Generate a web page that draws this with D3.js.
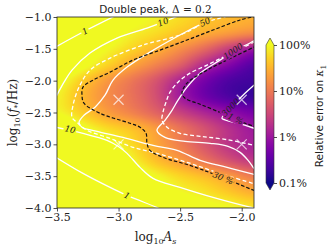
<!DOCTYPE html>
<html>
<head>
<meta charset="utf-8">
<script src="https://cdn.jsdelivr.net/npm/d3@7"></script>
<style>
body { margin: 0; background: #fff; }
svg { display: block; }
.tick text { font-family: "DejaVu Serif", serif; font-size: 11px; fill: #222; }
.tick line { stroke: #222; stroke-width: 0.8; }
.clabel { font-family: "DejaVu Serif", serif; font-style: italic; font-size: 8.5px; fill: #222; }
</style>
</head>
<body>
<svg width="332" height="247"></svg>
<script>
// grid of log10(relative error in %)
var xNodes = [ -3.5, -3.3, -3.1, -2.9, -2.7, -2.5, -2.3, -2.1, -1.9 ];
var yNodes = [ -1.0, -1.25, -1.5, -1.75, -2.0, -2.25, -2.5, -2.75, -3.0, -3.25, -3.5, -3.75, -4.0 ];
var logErr = [
	[ 2.6, 2.5, 2.3, 2.1, 1.95, 1.8, 1.65, 1.55, 1.48 ],
	[ 2.6, 2.4, 2.2, 1.95, 1.8, 1.62, 1.45, 1.3, 1.15 ],
	[ 2.5, 2.2, 2.0, 1.75, 1.5, 1.2, 0.85, 0.4, 0.0 ],
	[ 2.4, 2.1, 1.75, 1.4, 1.1, 0.75, 0.2, -0.2, -0.55 ],
	[ 2.1, 1.7, 1.3, 1.0, 0.65, 0.15, -0.3, -0.6, -0.7 ],
	[ 1.95, 1.55, 1.2, 0.95, 0.6, 0.05, -0.35, -0.6, -0.75 ],
	[ 2.0, 1.7, 1.35, 1.1, 0.8, 0.45, 0.15, -0.1, -0.3 ],
	[ 2.5, 2.1, 1.8, 1.6, 1.3, 0.95, 0.6, 0.25, 0.0 ],
	[ 2.7, 2.5, 2.15, 1.8, 1.42, 1.05, 0.65, 0.3, 0.1 ],
	[ 2.9, 2.7, 2.4, 2.0, 1.6, 1.3, 0.95, 0.6, 0.35 ],
	[ 3.0, 2.9, 2.6, 2.3, 2.0, 1.75, 1.55, 1.3, 1.0 ],
	[ 3.0, 3.0, 2.8, 2.5, 2.25, 2.0, 1.85, 1.65, 1.45 ],
	[ 3.0, 3.0, 3.0, 2.8, 2.5, 2.3, 2.1, 2.0, 1.85 ]
];
var xTicks = [ -3.5, -3.0, -2.5, -2.0 ];
var yTicks = [ -1.0, -1.5, -2.0, -2.5, -3.0, -3.5, -4.0 ];
var cbarTicks = [ -1, 0, 1, 2 ];
var cbarLabels = [ "0.1%", "1%", "10%", "100%" ];
var markers = [ [ -3.0, -2.3 ], [ -3.0, -3.0 ], [ -2.0, -2.3 ], [ -2.0, -3.0 ] ];

// contour lines, [log10 As, log10 f*]
var err30 = [ [-1.88,-0.985],[-2.013,-1.047],[-2.233,-1.205],[-2.444,-1.362],[-2.663,-1.52],[-2.883,-1.677],[-3.069,-1.866],[-3.208,-1.992],[-3.289,-2.102],[-3.297,-2.228],[-3.281,-2.354],[-3.151,-2.512],[-2.907,-2.669],[-2.826,-2.732],[-2.777,-2.827],[-2.769,-2.984],[-2.745,-3.094],[-2.639,-3.205],[-2.42,-3.331],[-2.2,-3.488],[-1.88,-3.74] ];
var err1 = [ [-1.88,-1.455],[-2.07,-1.63],[-2.281,-1.835],[-2.444,-2.039],[-2.485,-2.197],[-2.46,-2.276],[-2.338,-2.37],[-2.16,-2.512],[-2.038,-2.622],[-1.88,-2.73] ];
var snr1Up = [ [-3.52,-1.48],[-3.273,-1.22],[-3.02,-0.975] ];
var snr1Low = [ [-3.52,-3.19],[-3.289,-3.457],[-3.069,-3.677],[-2.931,-3.803],[-2.688,-3.992],[-2.66,-4.02] ];
var snr10Up = [ [-3.52,-2.3],[-3.443,-2.024],[-3.378,-1.835],[-3.232,-1.567],[-3.013,-1.331],[-2.769,-1.173],[-2.639,-1.079],[-2.517,-0.984] ];
var snr10Low = [ [-3.52,-2.728],[-3.289,-2.827],[-3.094,-2.937],[-3.004,-3.031],[-2.931,-3.142],[-2.826,-3.362],[-2.72,-3.535],[-2.501,-3.677],[-2.233,-3.835],[-1.957,-3.976],[-1.85,-4.02] ];
var snr50 = [ [-2.192,-0.921],[-2.298,-1.079],[-2.395,-1.173],[-2.745,-1.551],[-2.931,-1.787],[-3.045,-1.992],[-3.11,-2.228],[-3.191,-2.417],[-3.281,-2.543],[-3.321,-2.654],[-3.297,-2.732],[-3.175,-2.795],[-2.964,-2.89],[-2.72,-3.016],[-2.525,-3.094],[-2.338,-3.252],[-2.119,-3.362],[-1.932,-3.457],[-1.835,-3.504] ];
var snr50b = [ [-2.013,-0.937],[-2.281,-1.079],[-2.501,-1.283],[-2.745,-1.409],[-2.826,-1.457],[-3.069,-1.646],[-3.232,-1.835],[-3.321,-2.102],[-3.37,-2.386],[-3.378,-2.575],[-3.338,-2.654],[-3.256,-2.78],[-3.069,-2.906],[-2.883,-3.047],[-2.688,-3.142],[-2.444,-3.283],[-2.176,-3.457],[-1.908,-3.614],[-1.835,-3.661] ];
var snr1000 = [ [-1.835,-1.299],[-1.932,-1.409],[-2.07,-1.535],[-2.176,-1.677],[-2.338,-1.882],[-2.444,-2.102],[-2.517,-2.307],[-2.566,-2.465],[-2.623,-2.622],[-2.688,-2.78],[-2.623,-2.89],[-2.46,-2.953],[-2.257,-2.984],[-2.111,-3.031],[-2.013,-3.126],[-1.948,-3.252],[-1.9,-3.378],[-1.851,-3.504] ];
var snr1000b = [ [-1.851,-1.331],[-1.9,-1.394],[-2.119,-1.598],[-2.281,-1.756],[-2.42,-1.882],[-2.517,-2.024],[-2.582,-2.181],[-2.615,-2.339],[-2.639,-2.496],[-2.647,-2.622],[-2.606,-2.732],[-2.501,-2.827],[-2.338,-2.874],[-2.135,-2.921],[-1.9,-3.016],[-1.835,-3.047] ];
var snr3000 = [ [-1.835,-1.961],[-1.9,-2.071],[-1.973,-2.197],[-2.046,-2.339],[-2.127,-2.496],[-2.16,-2.591],[-2.095,-2.638],[-1.997,-2.685],[-1.9,-2.748],[-1.835,-2.78] ];

var contours = [
	{ pts : snr1Up, kind : "solid" }, { pts : snr1Low, kind : "solid" },
	{ pts : snr10Up, kind : "solid" }, { pts : snr10Low, kind : "solid" },
	{ pts : snr50, kind : "solid" }, { pts : snr50b, kind : "dashed" },
	{ pts : snr1000, kind : "solid" }, { pts : snr1000b, kind : "dashed" },
	{ pts : snr3000, kind : "solid" },
	{ pts : err30, kind : "error" }, { pts : err1, kind : "error" }
];
var labels = [
	{ text : "1", line : snr1Up, at : [ -3.273, -1.22 ] },
	{ text : "10", line : snr10Up, at : [ -2.639, -1.079 ] },
	{ text : "50", line : snr50, at : [ -2.298, -1.079 ] },
	{ text : "1000", line : snr1000, at : [ -2.07, -1.535 ] },
	{ text : "3000", line : snr3000, at : [ -2.09, -2.42 ] },
	{ text : "10", line : snr10Low, at : [ -3.394, -2.765 ] },
	{ text : "1", line : snr1Low, at : [ -2.931, -3.803 ] },
	{ text : "30 %", line : err30, at : [ -2.151, -3.53 ] },
	{ text : "1 %", line : err1, at : [ -2.05, -2.6 ] }
];

var svg = d3.select("svg");
var margin = { left : 57, top : 17, right : 78, bottom : 39 };
var width = 332 - margin.left - margin.right;
var height = 247 - margin.top - margin.bottom;
var svgG = svg.append("g").attr("transform",
		"translate(" + margin.left + "," + margin.top + ")");
var xScale = d3.scaleLinear().domain([ -3.5, -1.9 ]).range([ 0, width ]);
var yScale = d3.scaleLinear().domain([ -1, -4 ]).range([ 0, height ]);
var colors = d3.scaleSequential(d3.interpolatePlasma).domain([ -1, 2 ]).clamp(true);

// heatmap: smooth the read grid onto a canvas
var dx = xNodes[1] - xNodes[0], dy = yNodes[1] - yNodes[0];
function node(r, c) {
	r = Math.max(0, Math.min(yNodes.length - 1, r));
	c = Math.max(0, Math.min(xNodes.length - 1, c));
	return logErr[r][c];
}
function cubic(p0, p1, p2, p3, t) {
	return p1 + 0.5 * t * (p2 - p0 + t * (2 * p0 - 5 * p1 + 4 * p2 - p3 + t * (3 * (p1 - p2) + p3 - p0)));
}
function field(x, y) {
	var fc = (x - xNodes[0]) / dx, fr = (y - yNodes[0]) / dy;
	var c = Math.floor(fc), r = Math.floor(fr);
	var tc = fc - c, tr = fr - r;
	var rows = [ -1, 0, 1, 2 ].map(function(k) {
		return cubic(node(r + k, c - 1), node(r + k, c), node(r + k, c + 1), node(r + k, c + 2), tc);
	});
	return cubic(rows[0], rows[1], rows[2], rows[3], tr);
}
var canvas = document.createElement("canvas");
canvas.width = width;
canvas.height = height;
var ctx = canvas.getContext("2d");
var img = ctx.createImageData(width, height);
for (var j = 0; j < height; j++) {
	for (var i = 0; i < width; i++) {
		var col = d3.rgb(colors(field(xScale.invert(i + 0.5), yScale.invert(j + 0.5))));
		var k = (j * width + i) * 4;
		img.data[k] = col.r; img.data[k + 1] = col.g; img.data[k + 2] = col.b; img.data[k + 3] = 255;
	}
}
ctx.putImageData(img, 0, 0);
svgG.append("image").attr("width", width).attr("height", height)
		.attr("preserveAspectRatio", "none").attr("href", canvas.toDataURL());

// clip + label gaps
var defs = svg.append("defs");
defs.append("clipPath").attr("id", "plotClip").append("rect")
		.attr("width", width).attr("height", height);
var mask = defs.append("mask").attr("id", "labelMask").attr("maskUnits", "userSpaceOnUse")
		.attr("x", -60).attr("y", -20).attr("width", 340).attr("height", 260);
mask.append("rect").attr("x", -60).attr("y", -20).attr("width", 340).attr("height", 260).attr("fill", "white");

function labelPos(d) {
	var px = xScale(d.at[0]), py = yScale(d.at[1]);
	var best = 1e9, ang = 0;
	for (var n = 0; n < d.line.length - 1; n++) {
		var ax = xScale(d.line[n][0]), ay = yScale(d.line[n][1]);
		var bx = xScale(d.line[n + 1][0]), by = yScale(d.line[n + 1][1]);
		var mx = (ax + bx) / 2, my = (ay + by) / 2;
		var dist = (mx - px) * (mx - px) + (my - py) * (my - py);
		if (dist < best) {
			best = dist;
			ang = Math.atan2(by - ay, bx - ax) * 180 / Math.PI;
		}
	}
	if (ang > 90) ang -= 180;
	if (ang < -90) ang += 180;
	return "translate(" + px + "," + py + ") rotate(" + ang + ")";
}
mask.selectAll("rect.gap").data(labels).enter().append("rect").attr("class", "gap")
		.attr("transform", labelPos)
		.attr("x", function(d) { return -(d.text.length * 5 + 3) / 2; })
		.attr("y", -4.5)
		.attr("width", function(d) { return d.text.length * 5 + 3; })
		.attr("height", 9).attr("fill", "black");

var line = d3.line().curve(d3.curveCatmullRom).x(function(d) {
	return xScale(d[0]);
}).y(function(d) {
	return yScale(d[1]);
});
var lineG = svgG.append("g").attr("clip-path", "url(#plotClip)")
		.append("g").attr("mask", "url(#labelMask)");
lineG.selectAll("path").data(contours).enter().append("path")
		.attr("fill", "none")
		.attr("stroke", function(d) { return d.kind === "error" ? "#111" : "#fff"; })
		.attr("stroke-width", function(d) { return d.kind === "error" ? 1.2 : 1.3; })
		.attr("stroke-dasharray", function(d) {
			return d.kind === "solid" ? null : (d.kind === "dashed" ? "4,2.5" : "3.5,2");
		})
		.attr("d", function(d) { return line(d.pts); });

svgG.append("g").selectAll("text").data(labels).enter().append("text")
		.attr("class", "clabel").attr("transform", labelPos)
		.attr("text-anchor", "middle").attr("dy", "0.35em")
		.text(function(d) { return d.text; });

svgG.append("g").selectAll("path").data(markers).enter().append("path")
		.attr("transform", function(d) {
			return "translate(" + xScale(d[0]) + "," + yScale(d[1]) + ")";
		})
		.attr("d", "M-5,-5L5,5M-5,5L5,-5")
		.attr("stroke", "rgba(255,255,255,0.7)").attr("stroke-width", 1.2);

svgG.append("rect").attr("width", width).attr("height", height)
		.attr("fill", "none").attr("stroke", "#222").attr("stroke-width", 0.8);

svgG.append("g").attr("transform", "translate(0," + height + ")")
		.call(d3.axisBottom(xScale).tickValues(xTicks).tickFormat(d3.format(".1f"))
		.tickSize(3.5).tickPadding(2))
		.call(function(g) { g.select(".domain").remove(); });
svgG.append("g")
		.call(d3.axisLeft(yScale).tickValues(yTicks).tickFormat(d3.format(".1f"))
		.tickSize(3.5).tickPadding(2))
		.call(function(g) { g.select(".domain").remove(); });

// axis labels and title
var ylab = svg.append("text").attr("transform", "translate(17," + (margin.top + height / 2) + ") rotate(-90)")
		.attr("text-anchor", "middle").attr("font-family", "DejaVu Serif").attr("font-size", 12).attr("fill", "#222");
ylab.append("tspan").text("log");
ylab.append("tspan").attr("font-size", 8).attr("dy", 3).text("10");
ylab.append("tspan").attr("dy", -3).text("(");
ylab.append("tspan").attr("font-style", "italic").text("f");
ylab.append("tspan").attr("font-size", 8).attr("dy", 3).text("*");
ylab.append("tspan").attr("dy", -3).text("/Hz)");

var xlab = svg.append("text").attr("x", margin.left + width / 2).attr("y", 241)
		.attr("text-anchor", "middle").attr("font-family", "DejaVu Serif").attr("font-size", 12).attr("fill", "#222");
xlab.append("tspan").text("log");
xlab.append("tspan").attr("font-size", 8).attr("dy", 3).text("10");
xlab.append("tspan").attr("dy", -3).attr("font-style", "italic").text("A");
xlab.append("tspan").attr("font-size", 8).attr("dy", 3).attr("font-style", "italic").text("s");

var title = svg.append("text").attr("x", margin.left + width / 2).attr("y", 12.5)
		.attr("text-anchor", "middle").attr("font-size", 10.5).attr("fill", "#222");
title.append("tspan").attr("font-family", "DejaVu Sans").text("Double peak, ");
title.append("tspan").attr("font-family", "DejaVu Serif").text("Δ = 0.2");

// colorbar
var cScale = d3.scaleLinear().domain([ -1, 2 ]).range([ 183, 45 ]);
var cbX = 266, cbW = 8;
var grad = defs.append("linearGradient").attr("id", "cbGrad")
		.attr("x1", 0).attr("y1", 1).attr("x2", 0).attr("y2", 0);
d3.range(0, 1.0001, 0.05).forEach(function(t) {
	grad.append("stop").attr("offset", t).attr("stop-color", d3.interpolatePlasma(t));
});
var cb = svg.append("g");
cb.append("rect").attr("x", cbX).attr("y", cScale(2)).attr("width", cbW)
		.attr("height", cScale(-1) - cScale(2)).attr("fill", "url(#cbGrad)");
cb.append("path").attr("d", "M" + cbX + "," + cScale(2) + "L" + (cbX + cbW / 2) + "," + (cScale(2) - 7) + "L" + (cbX + cbW) + "," + cScale(2) + "Z")
		.attr("fill", d3.interpolatePlasma(1));
cb.append("path").attr("d", "M" + cbX + "," + cScale(-1) + "L" + (cbX + cbW / 2) + "," + (cScale(-1) + 7) + "L" + (cbX + cbW) + "," + cScale(-1) + "Z")
		.attr("fill", d3.interpolatePlasma(0));
cb.append("path").attr("d", "M" + cbX + "," + cScale(2) + "L" + (cbX + cbW / 2) + "," + (cScale(2) - 7) + "L" + (cbX + cbW) + "," + cScale(2)
		+ "L" + (cbX + cbW) + "," + cScale(-1) + "L" + (cbX + cbW / 2) + "," + (cScale(-1) + 7) + "L" + cbX + "," + cScale(-1) + "Z")
		.attr("fill", "none").attr("stroke", "#333").attr("stroke-width", 0.6);
cb.append("g").attr("transform", "translate(" + (cbX + cbW) + ",0)")
		.call(d3.axisRight(cScale).tickValues(cbarTicks).tickFormat(function(d, i) {
			return cbarLabels[i];
		}).tickSize(3).tickPadding(2))
		.call(function(g) { g.select(".domain").remove(); });
var cbLab = svg.append("text").attr("transform", "translate(323,116) rotate(-90)")
		.attr("text-anchor", "middle").attr("font-family", "DejaVu Sans").attr("font-size", 10.5).attr("fill", "#222");
cbLab.append("tspan").text("Relative error on ");
cbLab.append("tspan").attr("font-family", "DejaVu Serif").attr("font-style", "italic").text("κ");
cbLab.append("tspan").attr("font-family", "DejaVu Serif").attr("font-size", 7.5).attr("dy", 2.5).text("1");
</script>
</body>
</html>
